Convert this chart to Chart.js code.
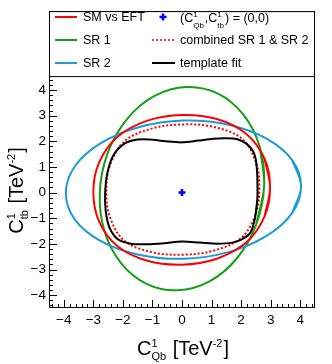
<!DOCTYPE html>
<html lang="en">
<head>
<meta charset="UTF-8">
<title>C1Qb vs C1tb contours</title>
<script src="https://cdn.jsdelivr.net/npm/chart.js@4.4.1/dist/chart.umd.min.js"></script>
<style>
    html, body { margin: 0; padding: 0; background: #fff; }
    canvas { display: block; }
</style>
</head>
<body>
<canvas id="myChart" width="332" height="364"></canvas>
<script>
    // contour points (x = C1Qb, y = C1tb), closed loops
    var smX = [2.98, 2.79, 2.17, 1.15, -0.01, -1.17, -2.19, -2.81, -3.00, -2.81, -2.19, -1.17, -0.01, 1.15, 2.17, 2.79];
    var smY = [0.20, 1.33, 2.30, 2.88, 3.03, 2.81, 2.17, 1.16, 0.02, -1.11, -2.08, -2.66, -2.81, -2.59, -1.95, -0.94];

    var sr1X = [2.78, 2.63, 2.07, 1.20, 0.15, -0.93, -1.86, -2.51, -2.78, -2.63, -2.07, -1.20, -0.15, 0.93, 1.86, 2.51];
    var sr1Y = [0.28, 1.79, 3.05, 3.87, 4.12, 3.77, 2.87, 1.56, 0.03, -1.48, -2.74, -3.56, -3.81, -3.46, -2.56, -1.25];

    var sr2X = [4.03, 3.73, 2.86, 1.57, 0.05, -1.47, -2.76, -3.63, -3.93, -3.63, -2.76, -1.47, 0.05, 1.57, 2.86, 3.73];
    var sr2Y = [0.25, 1.27, 2.11, 2.65, 2.81, 2.55, 1.92, 1.02, -0.02, -1.04, -1.88, -2.42, -2.58, -2.32, -1.69, -0.79];

    var combX = [2.62, 2.50, 2.01, 1.05, 0.03, -0.99, -1.95, -2.44, -2.56, -2.44, -1.95, -0.99, 0.03, 1.05, 2.01, 2.50];
    var combY = [0.20, 1.19, 2.12, 2.57, 2.66, 2.51, 2.00, 1.05, 0.04, -0.95, -1.88, -2.33, -2.42, -2.27, -1.76, -0.81];

    var fitX = [2.55, 2.55, 2.51, 2.42, 2.19, 1.85, 1.46, 1.05, 0.55, 0, -0.55, -1.08, -1.50, -1.92, -2.31, -2.52, -2.60, -2.58, -2.45, -2.17, -1.70, -1.20, -0.60, 0, 0.61, 1.20, 1.70, 2.02, 2.31, 2.47];
    var fitY = [-0.22, 0.55, 1.19, 1.58, 1.90, 2.09, 2.12, 2.10, 2.03, 1.96, 2.00, 2.07, 2.07, 1.93, 1.48, 0.80, 0.00, -0.73, -1.37, -1.82, -2.00, -2.01, -1.97, -1.91, -1.95, -1.99, -1.95, -1.82, -1.57, -0.99];

    var smPoint = [0, 0];

    var xTicks = [-4, -3, -2, -1, 0, 1, 2, 3, 4];
    var yTicks = [-4, -3, -2, -1, 0, 1, 2, 3, 4];

    var RED = '#ff0000', GREEN = '#14a014', BLUE = '#1b9cd6';
    var FONT = '"Liberation Sans", Arial, sans-serif';

    // closed loop: wrap one point on each side so the spline has neighbours at the seam
    function toLoop(xs, ys) {
        var n = xs.length, pts = [];
        pts.push({ x: xs[n - 1], y: ys[n - 1] });
        for (var i = 0; i < n; i++) pts.push({ x: xs[i], y: ys[i] });
        pts.push({ x: xs[0], y: ys[0] });
        pts.push({ x: xs[1], y: ys[1] });
        return pts;
    }

    function fmt(v) {
        return v < 0 ? '\u2212' + Math.abs(v) : String(v);
    }

    // draws text with stacked sup/sub parts
    function drawRich(ctx, parts, x, y, base, small, supDy, subDy, align) {
        var w = 0, widths = [];
        parts.forEach(function (p) {
            var pw;
            if (p.t !== undefined) {
                ctx.font = base + 'px ' + FONT;
                pw = ctx.measureText(p.t).width;
            } else {
                ctx.font = small + 'px ' + FONT;
                pw = Math.max(p.sup ? ctx.measureText(p.sup).width : 0, p.sub ? ctx.measureText(p.sub).width : 0) + 1;
            }
            widths.push(pw);
            w += pw;
        });
        var cx = align === 'left' ? x : x - w / 2;
        ctx.textAlign = 'left';
        ctx.textBaseline = 'alphabetic';
        parts.forEach(function (p, i) {
            if (p.t !== undefined) {
                ctx.font = base + 'px ' + FONT;
                ctx.fillText(p.t, cx, y);
            } else {
                ctx.font = small + 'px ' + FONT;
                if (p.sup) ctx.fillText(p.sup, cx, y + supDy);
                if (p.sub) ctx.fillText(p.sub, cx, y + subDy);
            }
            cx += widths[i];
        });
    }

    var rootStyle = {
        id: 'rootStyle',
        afterDraw: function (chart) {
            var ctx = chart.ctx, a = chart.chartArea;
            var xs = chart.scales.x, ys = chart.scales.y;
            ctx.save();
            ctx.strokeStyle = '#000';
            ctx.fillStyle = '#000';
            ctx.lineWidth = 1;

            // tick marks inside the frame
            ctx.beginPath();
            for (var v = -4.4; v <= 4.41; v += 0.2) {
                var px = Math.round(xs.getPixelForValue(v)) + 0.5;
                var major = Math.abs(v - Math.round(v)) < 0.01;
                ctx.moveTo(px, a.bottom);
                ctx.lineTo(px, a.bottom - (major ? 8 : 4));
            }
            for (var w = -4.4; w <= 7.01; w += 0.2) {
                var py = Math.round(ys.getPixelForValue(w)) + 0.5;
                var majorY = Math.abs(w - Math.round(w)) < 0.01;
                ctx.moveTo(a.left, py);
                ctx.lineTo(a.left + (majorY ? 8 : 4), py);
            }
            ctx.stroke();

            // frame
            ctx.strokeRect(a.left + 0.5, a.top + 0.5, a.right - a.left - 1, a.bottom - a.top - 1);

            // legend box
            var lx = a.left + 0.5, ly = a.top + 0.5, lw = a.right - a.left - 1, lh = 65;
            ctx.fillStyle = '#fff';
            ctx.fillRect(lx, ly, lw, lh);
            ctx.strokeRect(lx, ly, lw, lh);

            var rows = [17, 40, 63];
            var ds = chart.data.datasets;
            var col1 = [ds[1], ds[2], ds[3]];
            var col2 = [ds[0], ds[4], ds[5]];
            ctx.lineWidth = 2;
            col1.forEach(function (d, i) {
                ctx.strokeStyle = d.borderColor;
                ctx.setLineDash([]);
                ctx.beginPath();
                ctx.moveTo(55, rows[i]);
                ctx.lineTo(77, rows[i]);
                ctx.stroke();
                ctx.fillStyle = '#000';
                ctx.font = '12.5px ' + FONT;
                ctx.textAlign = 'left';
                ctx.textBaseline = 'middle';
                ctx.fillText(d.label, 83, rows[i] + 0.5);
            });
            // marker entry
            ctx.strokeStyle = col2[0].borderColor;
            ctx.lineWidth = 2.5;
            ctx.beginPath();
            ctx.moveTo(163, rows[0] - 3.5); ctx.lineTo(163, rows[0] + 3.5);
            ctx.moveTo(159.5, rows[0]); ctx.lineTo(166.5, rows[0]);
            ctx.stroke();
            ctx.fillStyle = '#000';
            drawRich(ctx, [{ t: '(C' }, { sup: '1', sub: 'Qb' }, { t: ',C' }, { sup: '1', sub: 'tb' }, { t: ') = (0,0)' }],
                180, rows[0] + 4.5, 12.5, 8, -4.5, 6, 'left');
            [col2[1], col2[2]].forEach(function (d, i) {
                var r = rows[i + 1];
                ctx.strokeStyle = d.borderColor;
                ctx.lineWidth = d.borderDash ? 1.5 : 2;
                ctx.setLineDash(d.borderDash || []);
                ctx.beginPath();
                ctx.moveTo(152, r);
                ctx.lineTo(175, r);
                ctx.stroke();
                ctx.setLineDash([]);
                ctx.fillStyle = '#000';
                ctx.font = '12.5px ' + FONT;
                ctx.textAlign = 'left';
                ctx.textBaseline = 'middle';
                ctx.fillText(d.label, 180, r + 0.5);
            });

            // axis titles
            ctx.fillStyle = '#000';
            drawRich(ctx, [{ t: 'C' }, { sup: '1', sub: 'Qb' }, { t: ' [TeV' }, { sup: '-2' }, { t: ']' }],
                183, 355, 20, 11, -8, 4.5, 'center');
            ctx.save();
            ctx.translate(23, 190.5);
            ctx.rotate(-Math.PI / 2);
            drawRich(ctx, [{ t: 'C' }, { sup: '1', sub: 'tb' }, { t: ' [TeV' }, { sup: '-2' }, { t: ']' }],
                0, 0, 20, 11, -8, 4.5, 'center');
            ctx.restore();
            ctx.restore();
        }
    };

    function contour(label, xs, ys, color, dash, tension, order) {
        return {
            type: 'line',
            label: label,
            data: toLoop(xs, ys),
            borderColor: color,
            borderWidth: 2,
            borderDash: dash,
            fill: false,
            pointRadius: 0,
            tension: tension,
            order: order
        };
    }

    var ctx = document.getElementById('myChart').getContext('2d');
    var myChart = new Chart(ctx, {
        type: 'scatter',
        data: {
            datasets: [
                {
                    label: '(C1Qb,C1tb) = (0,0)',
                    data: [{ x: smPoint[0], y: smPoint[1] }],
                    borderColor: '#0000ff',
                    backgroundColor: '#0000ff',
                    pointStyle: 'cross',
                    pointRadius: 3.5,
                    borderWidth: 2.5,
                    showLine: false,
                    order: 0
                },
                contour('SM vs EFT', smX, smY, RED, undefined, 0.35, 3),
                contour('SR 1', sr1X, sr1Y, GREEN, undefined, 0.35, 5),
                contour('SR 2', sr2X, sr2Y, BLUE, undefined, 0.35, 4),
                contour('combined SR 1 & SR 2', combX, combY, RED, [2, 2], 0.35, 2),
                contour('template fit', fitX, fitY, '#000', undefined, 0.3, 1)
            ]
        },
        options: {
            responsive: false,
            animation: false,
            elements: { line: { capBezierPoints: false } },
            layout: { padding: { top: 7, right: 17, left: 0, bottom: 0 } },
            plugins: { legend: { display: false }, tooltip: { enabled: false } },
            scales: {
                x: {
                    type: 'linear', min: -4.5, max: 4.5,
                    afterFit: function (s) { s.height = 56; },
                    afterBuildTicks: function (s) { s.ticks = xTicks.map(function (v) { return { value: v }; }); },
                    ticks: { color: '#000', font: { family: FONT, size: 13.5 }, padding: 4, maxRotation: 0, autoSkip: false, callback: fmt },
                    grid: { display: false, drawTicks: false },
                    border: { display: false }
                },
                y: {
                    type: 'linear', min: -4.5, max: 7.08,
                    afterFit: function (s) { s.width = 49; },
                    afterBuildTicks: function (s) { s.ticks = yTicks.map(function (v) { return { value: v }; }); },
                    ticks: { color: '#000', font: { family: FONT, size: 13.5 }, padding: 3, autoSkip: false, callback: fmt },
                    grid: { display: false, drawTicks: false },
                    border: { display: false }
                }
            }
        },
        plugins: [rootStyle]
    });
</script>
</body>
</html>
